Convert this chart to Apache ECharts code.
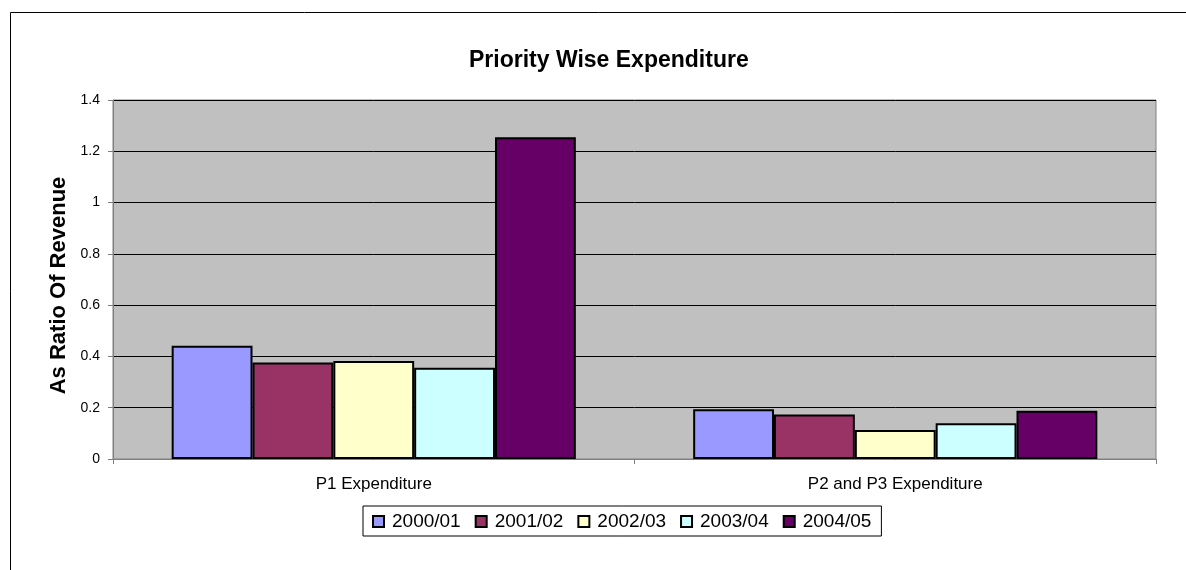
<!DOCTYPE html>
<html>
<head>
<meta charset="utf-8">
<script src="https://cdn.jsdelivr.net/npm/echarts@6/dist/echarts.min.js"></script>
<style>
  html, body { margin: 0; padding: 0; background: #fff; }
  #chart { width: 1186px; height: 570px; }
</style>
</head>
<body>
<div id="chart"></div>
<script>
// categories and per-year values (ratio of revenue)
const categories = ['P1 Expenditure', 'P2 and P3 Expenditure'];
const years = ['2000/01', '2001/02', '2002/03', '2003/04', '2004/05'];
const fy2000 = [0.442, 0.194];
const fy2001 = [0.376, 0.174];
const fy2002 = [0.382, 0.113];
const fy2003 = [0.356, 0.139];
const fy2004 = [1.255, 0.188];
const colors = ['#9999FF', '#993366', '#FFFFCC', '#CCFFFF', '#660066'];

const seriesValues = [fy2000, fy2001, fy2002, fy2003, fy2004];

const chart = echarts.init(document.getElementById('chart'));
chart.setOption({
  animation: false,
  textStyle: { fontFamily: 'Liberation Sans, Arial, sans-serif', color: '#000' },
  graphic: [{
    type: 'rect',
    shape: { x: 10.5, y: 12.5, width: 1300, height: 700 },
    style: { fill: 'none', stroke: '#000', lineWidth: 1 },
    silent: true
  }],
  title: {
    text: 'Priority Wise Expenditure',
    left: 464,
    top: 44,
    textStyle: { fontSize: 23, fontWeight: 'bold', color: '#000' }
  },
  legend: {
    top: 506,
    left: 363,
    itemWidth: 11,
    itemHeight: 11,
    itemGap: 14,
    icon: 'rect',
    padding: [6, 10, 5, 9],
    borderColor: '#000',
    borderWidth: 1,
    backgroundColor: '#fff',
    textStyle: { fontSize: 19, color: '#000', padding: [0, 0, 0, 3] },
    data: years
  },
  grid: {
    left: 113, right: 30, top: 100, bottom: 111,
    show: true,
    backgroundColor: '#C0C0C0',
    borderColor: '#808080',
    borderWidth: 1,
    containLabel: false
  },
  xAxis: {
    type: 'category',
    data: categories,
    axisLine: { lineStyle: { color: '#808080', width: 1 } },
    axisTick: { show: true, length: 5, lineStyle: { color: '#808080' } },
    axisLabel: { fontSize: 17, color: '#000', margin: 17 },
    splitLine: { show: false }
  },
  yAxis: {
    type: 'value',
    min: 0, max: 1.4, interval: 0.2,
    name: 'As Ratio Of Revenue',
    nameLocation: 'middle',
    nameGap: 41,
    nameTextStyle: { fontSize: 22, fontWeight: 'bold', color: '#000', padding: [0, 12, 0, 0] },
    axisLine: { show: true, lineStyle: { color: '#808080', width: 1 } },
    axisTick: { show: true, length: 5, lineStyle: { color: '#808080' } },
    axisLabel: { fontSize: 14, color: '#000', margin: 13 },
    splitLine: { show: true, lineStyle: { color: '#000', width: 1 } }
  },
  series: years.map((y, i) => ({
    name: y,
    type: 'bar',
    data: seriesValues[i],
    barGap: '0%',
    barCategoryGap: '22.5%',
    itemStyle: { color: colors[i], borderColor: '#000', borderWidth: 2 }
  }))
});
</script>
</body>
</html>
